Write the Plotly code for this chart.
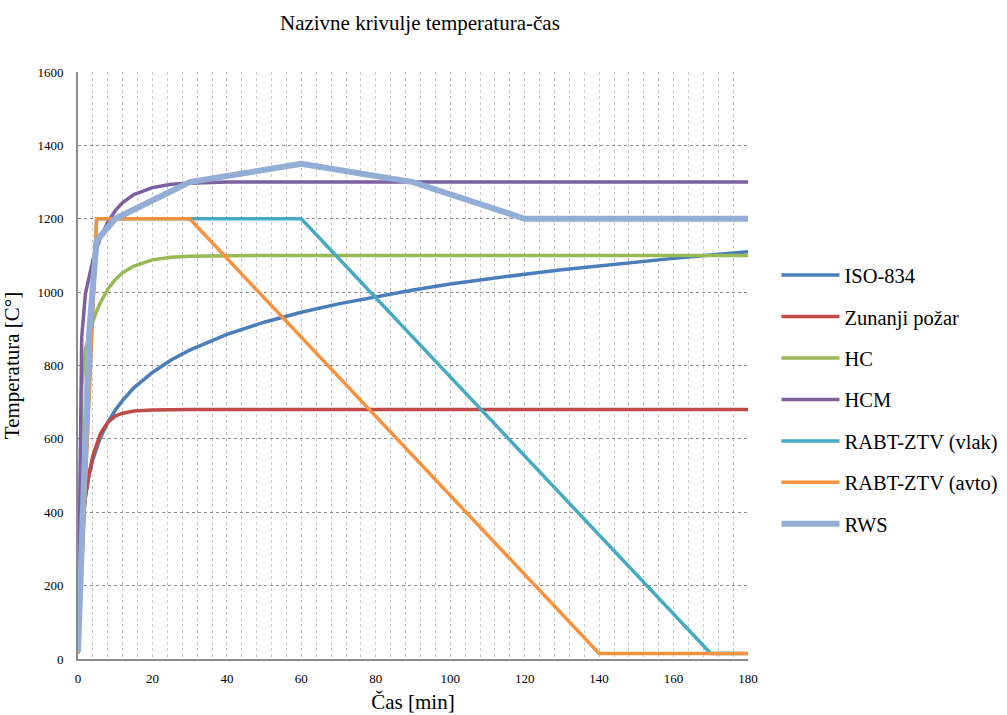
import plotly.graph_objects as go

# ---- data ----
t_curve = [0, 1, 2, 3, 4, 5, 6, 8, 10, 12, 15, 20, 25, 30, 40, 50, 60, 70, 80, 90,
           100, 110, 120, 130, 140, 150, 160, 170, 180]
iso_834 = [20, 349, 445, 502, 544, 576, 603, 645, 678, 705, 739, 781, 815, 842, 885,
           918, 945, 968, 988, 1006, 1022, 1036, 1049, 1061, 1072, 1082, 1092, 1101, 1110]
zunanji = [20, 346, 441, 506, 554, 588, 614, 645, 662, 670, 676, 679, 680, 680, 680,
           680, 680, 680, 680, 680, 680, 680, 680, 680, 680, 680, 680, 680, 680]
hc = [20, 743, 844, 887, 920, 948, 971, 1008, 1034, 1053, 1071, 1088, 1095, 1098, 1100,
      1100, 1100, 1100, 1100, 1100, 1100, 1100, 1100, 1100, 1100, 1100, 1100, 1100, 1100]
hcm = [20, 877, 996, 1047, 1087, 1120, 1147, 1191, 1222, 1244, 1266, 1285, 1294, 1297, 1300,
       1300, 1300, 1300, 1300, 1300, 1300, 1300, 1300, 1300, 1300, 1300, 1300, 1300, 1300]

t_vlak = [0, 5, 60, 170, 180]
rabt_vlak = [15, 1200, 1200, 15, 15]
t_avto = [0, 5, 30, 140, 180]
rabt_avto = [15, 1200, 1200, 15, 15]
t_rws = [0, 3, 5, 10, 30, 60, 90, 120, 180]
rws = [20, 890, 1140, 1200, 1300, 1350, 1300, 1200, 1200]

x_ticks = [0, 20, 40, 60, 80, 100, 120, 140, 160, 180]
y_ticks = [0, 200, 400, 600, 800, 1000, 1200, 1400, 1600]

series = [
    ("ISO-834", t_curve, iso_834, "#4A7EBB", 3.5),
    ("Zunanji požar", t_curve, zunanji, "#BE4B48", 3.5),
    ("HC", t_curve, hc, "#98B954", 3.5),
    ("HCM", t_curve, hcm, "#7D60A0", 3.5),
    ("RABT-ZTV (vlak)", t_vlak, rabt_vlak, "#46AAC5", 3.5),
    ("RABT-ZTV (avto)", t_avto, rabt_avto, "#F69240", 3.5),
    ("RWS", t_rws, rws, "#93ADD6", 6),
]

FONT = "Liberation Serif"

fig = go.Figure()
for name, xs, ys, col, w in series:
    fig.add_trace(go.Scatter(x=xs, y=ys, name=name, mode="lines", legendgroup=name,
                             line=dict(color=col, width=w)))

fig.update_layout(
    width=1007, height=715,
    margin=dict(l=78, r=259, t=72, b=56, autoexpand=False),
    paper_bgcolor="white", plot_bgcolor="white",
    font=dict(family=FONT, color="black"),
    title=dict(text="Nazivne krivulje temperatura-čas", x=0.417, xanchor="center",
               y=0.969, yanchor="middle", font=dict(size=21, family=FONT)),
    legend=dict(x=1.0425, xanchor="left", y=0.4416, yanchor="middle",
                traceorder="grouped", tracegroupgap=11.8, itemwidth=58,
                font=dict(size=20.5, family=FONT), bgcolor="rgba(0,0,0,0)"),
    showlegend=True,
)
fig.update_xaxes(
    range=[0, 180], tickvals=x_ticks, ticktext=[str(v) for v in x_ticks],
    automargin=False,
    showline=True, linecolor="#8C8C8C", linewidth=2, zeroline=False,
    showgrid=True, gridcolor="#C8C8C8", griddash="dot", gridwidth=1,
    minor=dict(dtick=4, tick0=0, showgrid=True, gridcolor="#C8C8C8", griddash="dot", gridwidth=1),
    tickfont=dict(size=13, family=FONT), ticklabelstandoff=6,
    title=dict(text="Čas [min]", font=dict(size=21, family=FONT), standoff=10),
)
fig.update_yaxes(
    range=[0, 1600], tickvals=y_ticks, ticktext=[str(v) for v in y_ticks],
    automargin=False,
    showline=True, linecolor="#8C8C8C", linewidth=2, zeroline=False,
    showgrid=True, gridcolor="#8C8C8C", griddash="dot", gridwidth=1,
    tickfont=dict(size=13, family=FONT), ticklabelstandoff=10,
    title=dict(text="Temperatura [C°]", font=dict(size=21, family=FONT), standoff=12),
)

fig.write_html("out.html", config={"displayModeBar": False},
               post_script="document.body.style.margin='0';")
